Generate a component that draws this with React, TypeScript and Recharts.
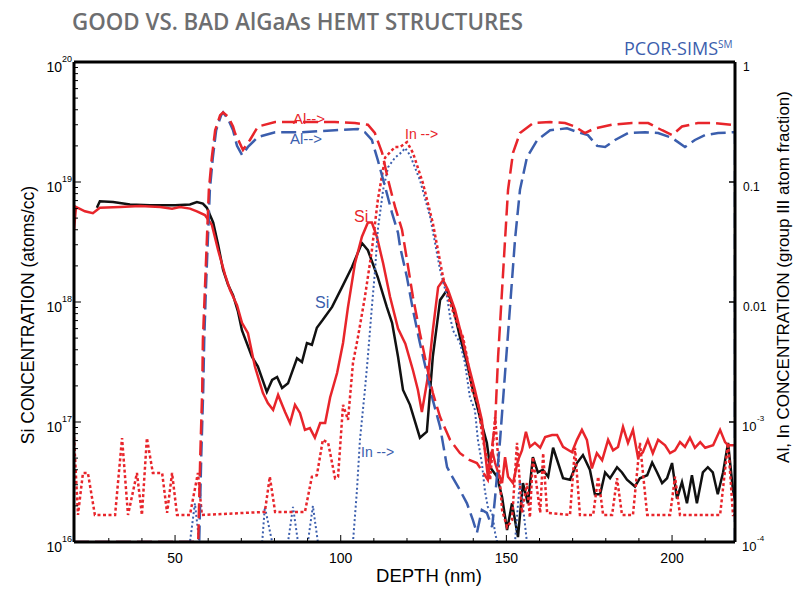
import React from 'react'
import { LineChart, Line, XAxis, YAxis, ReferenceLine } from 'recharts'

// depth (nm), Si concentration (atoms/cc)
const siBlack: [number, number][] = [
  [26.4, 6.1e18], [27.3, 6.9e18], [31.3, 6.8e18], [36.4, 6.5e18], [42.4, 6.4e18], [50.0, 6.4e18],
  [54.5, 6.5e18], [56.6, 6.8e18], [58.4, 6.6e18], [59.6, 6.1e18], [61.5, 4.6e18], [63.0, 3.0e18],
  [64.5, 1.85e18], [66.0, 1.39e18], [67.5, 1.14e18], [69.0, 8.3e17], [70.2, 5.8e17], [73.2, 3.5e17],
  [75.0, 2.9e17], [77.7, 1.78e17], [79.3, 2.24e17], [80.8, 2.37e17], [82.3, 1.92e17], [84.1, 2.1e17],
  [86.8, 3.4e17], [88.3, 3.16e17], [89.8, 4.55e17], [91.3, 4.4e17], [92.8, 6.1e17], [94.6, 7.1e17],
  [97.4, 9.1e17], [100.4, 1.33e18], [103.4, 1.96e18], [106.4, 3.1e18], [108.2, 2.7e18], [111.2, 1.6e18],
  [113.9, 9.1e17], [115.5, 6.7e17], [117.3, 3.5e17], [118.8, 1.85e17], [120.9, 1.39e17], [123.9, 7.4e16],
  [126.0, 8.3e16], [127.8, 3.5e17], [130.0, 1.04e18], [132.1, 1.26e18], [133.9, 9.1e17], [136.0, 5.1e17],
  [138.1, 3.1e17], [139.9, 1.85e17], [142.0, 1.1e17], [144.1, 6.7e16], [145.1, 4.2e16], [147.2, 3.5e16],
  [148.7, 2.37e16], [150.2, 1.26e16], [151.7, 2.1e16], [153.5, 1.1e16], [155.0, 3.1e16], [156.5, 2.1e16],
  [158.0, 5.1e16], [159.5, 3.8e16], [161.0, 4.0e16], [162.6, 3.5e16], [164.1, 6.1e16], [167.1, 3.4e16],
  [169.2, 3.3e16], [171.3, 4.55e16], [173.1, 5.3e16], [175.2, 4.0e16], [176.7, 2.5e16], [178.3, 2.5e16],
  [179.8, 3.8e16], [181.3, 3.4e16], [183.4, 4.2e16], [184.9, 3.8e16], [186.4, 3.3e16], [188.8, 2.9e16],
  [190.3, 3.4e16], [192.5, 3.6e16], [194.0, 4.6e16], [195.5, 3.8e16], [197.0, 3.1e16], [198.5, 3.4e16],
  [200.0, 4.55e16], [201.5, 2.3e16], [203.0, 3.16e16], [204.5, 2.1e16], [206.0, 3.6e16], [207.5, 2.1e16],
  [209.3, 3.8e16], [210.8, 4.2e16], [212.3, 3.8e16], [213.8, 2.5e16], [215.4, 3.8e16], [216.9, 6.7e16],
  [218.4, 2.7e16], [219.0, 2.24e16],
]

const siRed: [number, number][] = [
  [19.5, 4.0e18], [20.1, 6.2e18], [22.8, 5.7e18], [25.2, 5.5e18], [27.3, 6.1e18], [33.4, 6.2e18],
  [39.4, 6.3e18], [45.5, 6.2e18], [49.1, 6.0e18], [51.5, 6.2e18], [54.5, 6.0e18], [56.6, 5.7e18],
  [59.0, 5.3e18], [61.1, 4.4e18], [63.0, 2.7e18], [65.1, 1.68e18], [66.6, 1.26e18], [68.7, 9.4e17],
  [70.2, 6.7e17], [72.0, 5.5e17], [74.1, 2.9e17], [76.5, 1.75e17], [78.0, 1.44e17], [79.6, 1.26e17],
  [81.1, 1.68e17], [83.2, 1.21e17], [84.7, 9.8e16], [86.2, 1.39e17], [87.7, 1.19e17], [89.2, 8.6e16],
  [90.7, 8.9e16], [92.2, 7.4e16], [93.8, 9.8e16], [95.3, 9.8e16], [96.8, 1.6e17], [98.9, 2.56e17],
  [100.7, 4.55e17], [102.2, 9.1e17], [104.3, 2.1e18], [106.4, 3.5e18], [108.2, 4.6e18], [109.4, 4.6e18],
  [110.9, 3.5e18], [112.8, 2.1e18], [114.9, 1.1e18], [117.3, 6.0e17], [119.5, 4.5e17], [121.8, 2.7e17],
  [123.3, 1.85e17], [124.5, 1.21e17], [126.3, 2.37e17], [127.8, 5.8e17], [129.4, 1.33e18], [130.9, 1.52e18],
  [132.4, 1.26e18], [134.5, 8.6e17], [136.6, 5.1e17], [138.4, 3.1e17], [140.5, 1.85e17], [142.6, 1.04e17],
  [143.5, 5.8e16], [144.4, 3.5e16], [145.7, 5.8e16], [146.6, 4.55e16], [147.5, 3.8e16], [148.7, 3.1e16],
  [149.6, 5.1e16], [150.5, 3.5e16], [152.0, 3.1e16], [153.5, 4.8e16], [154.7, 5.8e16], [155.9, 8.3e16],
  [157.1, 6.2e16], [158.6, 6.7e16], [160.2, 6.1e16], [161.7, 7.5e16], [163.8, 7.8e16], [165.3, 7.8e16],
  [167.1, 6.2e16], [169.8, 5.6e16], [171.3, 7.1e16], [172.8, 8.6e16], [174.3, 7.1e16], [175.8, 4.1e16],
  [177.3, 5.5e16], [178.9, 4.8e16], [180.7, 7.1e16], [182.2, 5.8e16], [183.7, 6.2e16], [185.2, 9.1e16],
  [186.7, 6.7e16], [188.2, 8.6e16], [189.7, 5.1e16], [191.2, 5.6e16], [192.7, 7.1e16], [194.2, 5.5e16],
  [195.8, 7.1e16], [197.9, 6.4e16], [199.4, 5.5e16], [200.9, 5.8e16], [202.4, 6.8e16], [203.9, 6.2e16],
  [205.4, 7.4e16], [206.9, 6.1e16], [208.5, 6.8e16], [210.0, 6.1e16], [212.4, 6.4e16], [214.5, 8.6e16],
  [216.0, 6.8e16], [216.9, 6.4e16], [219.0, 6.4e16],
]

// depth (nm), group III atom fraction
const alRed: [number, number][] = [
  [19.5, 1e-4], [56.6, 1e-4], [57.0, 1.04e-4], [57.6, 5.1e-4], [58.2, 1.85e-3], [58.4, 4.8e-3],
  [59.0, 0.0126], [59.6, 0.033], [60.2, 0.086], [61.1, 0.16], [62.1, 0.27], [63.6, 0.36], [64.5, 0.38],
  [66.0, 0.35], [67.5, 0.29], [68.1, 0.256], [70.5, 0.185], [72.6, 0.224], [75.0, 0.29], [80.2, 0.316],
  [88.3, 0.316], [98.2, 0.316], [104.3, 0.31], [108.2, 0.3], [110.3, 0.256], [112.5, 0.175], [114.3, 0.104],
  [116.4, 0.062], [118.5, 0.04], [120.0, 0.0224], [121.8, 0.011], [123.9, 5.5e-3], [126.0, 2.9e-3],
  [127.8, 1.75e-3], [130.0, 1.1e-3], [133.0, 7.1e-4], [136.0, 5.5e-4], [139.0, 4.8e-4], [141.1, 4.55e-4],
  [143.0, 3.8e-4], [144.4, 3.3e-4], [146.6, 9.8e-4], [147.5, 3.5e-3], [148.7, 0.0126], [149.6, 0.033],
  [150.5, 0.086], [152.0, 0.175], [154.1, 0.256], [158.1, 0.31], [163.2, 0.316], [167.7, 0.31],
  [170.7, 0.29], [173.7, 0.256], [176.7, 0.28], [181.9, 0.3], [187.9, 0.31], [192.8, 0.31], [197.0, 0.27],
  [200.0, 0.246], [203.0, 0.29], [207.8, 0.31], [213.0, 0.31], [218.1, 0.3], [219.0, 0.3],
]

const alBlue: [number, number][] = [
  [19.5, 1e-4], [57.0, 1e-4], [57.3, 1.04e-4], [57.9, 5.1e-4], [58.5, 1.85e-3], [58.8, 4.8e-3],
  [59.3, 0.0126], [59.9, 0.033], [60.5, 0.086], [61.4, 0.16], [62.4, 0.27], [63.9, 0.36], [64.5, 0.38],
  [66.0, 0.335], [67.5, 0.27], [68.7, 0.2], [70.2, 0.168], [72.0, 0.196], [75.0, 0.237], [80.2, 0.26],
  [88.3, 0.26], [98.2, 0.27], [105.2, 0.277], [107.3, 0.26], [109.4, 0.224], [111.2, 0.152], [113.4, 0.091],
  [115.5, 0.055], [117.3, 0.0376], [117.9, 0.029], [120.0, 0.016], [121.8, 8.6e-3], [123.9, 4.55e-3],
  [126.0, 2.56e-3], [127.8, 1.52e-3], [130.0, 9.1e-4], [132.1, 4.2e-4], [133.9, 3.4e-4], [136.0, 2.7e-4],
  [138.1, 2.1e-4], [139.9, 1.52e-4], [141.1, 1.19e-4], [142.6, 1.85e-4], [144.1, 1.75e-4], [145.7, 1.33e-4],
  [146.6, 2.37e-4], [148.1, 7.1e-4], [149.6, 2.56e-3], [151.1, 9.1e-3], [152.6, 0.033], [154.1, 0.086],
  [156.2, 0.16], [159.3, 0.224], [163.2, 0.27], [168.3, 0.28], [171.6, 0.26], [174.6, 0.246], [177.4, 0.2],
  [179.8, 0.196], [182.8, 0.224], [186.7, 0.256], [191.9, 0.26], [195.8, 0.256], [200.0, 0.233],
  [203.9, 0.196], [206.9, 0.224], [210.0, 0.246], [213.9, 0.256], [219.0, 0.26], [219.0, 1e-4],
]

const inRed: [number, number][] = [
  [19.5, 7.5e-4], [20.7, 1.68e-4], [22.2, 3.76e-4], [23.7, 3.76e-4], [25.8, 1.68e-4], [31.9, 1.68e-4],
  [34.0, 7.35e-4], [35.8, 1.68e-4], [38.5, 3.76e-4], [40.0, 1.68e-4], [41.5, 7.35e-4], [43.3, 3.76e-4],
  [46.1, 3.76e-4], [47.6, 1.75e-4], [49.1, 3.76e-4], [50.6, 1.68e-4], [54.5, 1.68e-4], [56.9, 3.76e-4],
  [58.1, 1.68e-4], [77.1, 1.78e-4], [78.6, 3.5e-4], [80.2, 1.78e-4], [89.2, 1.78e-4], [91.3, 3.5e-4],
  [92.8, 3.6e-4], [94.6, 7.1e-4], [96.2, 6.7e-4], [98.3, 3.4e-4], [99.2, 3.5e-4], [100.7, 1.39e-3],
  [102.2, 1.04e-3], [103.7, 3.1e-3], [105.2, 5.1e-3], [107.3, 0.011], [109.4, 0.027], [111.2, 0.071],
  [113.4, 0.16], [116.4, 0.196], [117.9, 0.196], [120.0, 0.215], [121.8, 0.175], [124.8, 0.098],
  [127.8, 0.0455], [130.9, 0.016], [133.0, 9.8e-3], [135.1, 6.7e-3], [136.9, 5.1e-3], [138.1, 3.5e-3],
  [139.6, 1.85e-3], [141.4, 1.44e-3], [142.9, 7.1e-4], [144.1, 5.1e-4], [145.1, 3.3e-4], [146.6, 1.1e-3],
  [147.5, 5.1e-4], [148.7, 1.85e-4], [150.2, 1.33e-4], [151.7, 1.52e-4], [153.2, 6.7e-4], [154.7, 1.75e-4],
  [156.2, 3.1e-4], [157.1, 1.6e-4], [158.0, 5.1e-4], [160.2, 1.75e-4], [161.1, 5.5e-4], [162.3, 1.75e-4],
  [169.2, 1.68e-4], [170.7, 6.1e-4], [172.2, 1.68e-4], [176.2, 1.68e-4], [177.7, 3.5e-4], [179.2, 1.68e-4],
  [181.9, 1.68e-4], [183.4, 3.4e-4], [184.9, 1.68e-4], [188.2, 1.68e-4], [190.3, 6.7e-4], [192.5, 1.68e-4],
  [199.4, 1.68e-4], [200.9, 3.5e-4], [202.4, 1.68e-4], [214.5, 1.68e-4], [216.9, 6.7e-4], [218.4, 1.68e-4],
  [219.0, 1.68e-4],
]

const inBlue: [number, number][] = [
  [19.5, 1e-4], [54.5, 1e-4], [56.0, 2.1e-4], [57.3, 1e-4], [76.3, 1e-4], [77.1, 1.96e-4], [79.3, 1e-4],
  [84.1, 1e-4], [85.6, 1.96e-4], [87.1, 1e-4], [90.1, 1e-4], [91.6, 2.0e-4], [93.1, 1e-4], [103.7, 1e-4],
  [104.9, 2.7e-4], [105.8, 7.1e-4], [107.3, 1.85e-3], [108.2, 3.5e-3], [109.4, 9.1e-3], [110.3, 0.0175],
  [111.2, 0.04], [112.8, 0.086], [114.3, 0.133], [116.4, 0.16], [118.5, 0.178], [119.4, 0.192],
  [120.9, 0.168], [123.9, 0.104], [127.0, 0.051], [130.0, 0.0185], [132.1, 0.011], [133.0, 7.5e-3],
  [133.9, 5.8e-3], [136.0, 4.55e-3], [137.5, 3.1e-3], [139.0, 1.6e-3], [140.5, 1.26e-3], [141.4, 7.1e-4],
  [142.6, 4.55e-4], [143.5, 2.7e-4], [144.4, 1.96e-4], [145.7, 1.75e-4], [146.6, 1.19e-4], [147.2, 1e-4],
  [152.6, 1e-4], [154.1, 3.3e-4], [156.2, 1e-4], [219.0, 1e-4],
]

const depthTicks = [30, 40, 50, 60, 70, 80, 90, 100, 110, 120, 130, 140, 150, 160, 170, 180, 190, 200, 210]
const siDecades = [1e16, 1e17, 1e18, 1e19, 1e20]
const fracDecades = [1e-4, 1e-3, 0.01, 0.1, 1]
const fracLabels = ['', '', '0.01', '0.1', '1']

const siTicks = siDecades.flatMap((d, i) =>
  i < siDecades.length - 1 ? [d, 2, 3, 4, 5, 6, 7, 8, 9].map((m, j) => (j === 0 ? d : d * m)) : [d]
)

const FONT = '"Liberation Sans", Arial, Helvetica, sans-serif'
const RED = '#e8252b'
const BLUE = '#3b5ead'

const rows = (pts: [number, number][]) => pts.map(([depth, v]) => ({ depth, v }))

function isDecade(v: number) {
  const lg = Math.log10(v)
  return Math.abs(lg - Math.round(lg)) < 1e-6
}

function LeftTick(props: any) {
  const { x, y, payload } = props
  const major = isDecade(payload.value)
  const e = Math.round(Math.log10(payload.value))
  return (
    <g>
      <line x1={x} x2={x + (major ? 7 : 4)} y1={y} y2={y} stroke="#000" strokeWidth={1} />
      {major && (
        <g fontFamily={FONT} fill="#000">
          <text x={x - 12} y={y + 10} fontSize={14} textAnchor="end">10</text>
          <text x={x - 12} y={y} fontSize={9}>{e}</text>
        </g>
      )}
    </g>
  )
}

function RightTick(props: any) {
  const { x, y, payload, index } = props
  const e = Math.round(Math.log10(payload.value))
  const label = fracLabels[index]
  return (
    <g fontFamily={FONT} fill="#000">
      <line x1={x} x2={x - 6} y1={y} y2={y} stroke="#000" strokeWidth={1.5} />
      {label ? (
        <text x={x + 8} y={y + 9} fontSize={12}>{label}</text>
      ) : (
        <>
          <text x={x + 7} y={y + 9} fontSize={13}>10</text>
          <text x={x + 22} y={y - 1} fontSize={8}>{e}</text>
        </>
      )}
    </g>
  )
}

function BottomTick(props: any) {
  const { x, y, payload } = props
  const major = payload.value % 50 === 0
  return (
    <g>
      <line x1={x} x2={x} y1={y} y2={y - (major ? 7 : 4)} stroke="#000" strokeWidth={1} />
      {major && (
        <text x={x} y={y + 21} fontSize={14} textAnchor="middle" fontFamily={FONT} fill="#000">
          {payload.value}
        </text>
      )}
    </g>
  )
}

export default function App() {
  return (
    <div style={{ position: 'absolute', left: 0, top: 0, width: 799, height: 589, background: '#fff' }}>
      <LineChart width={799} height={589} margin={{ top: 62, right: 0, bottom: 0, left: 0 }}>
        <XAxis
          type="number"
          dataKey="depth"
          domain={[19.5, 219]}
          allowDataOverflow
          ticks={depthTicks}
          tick={<BottomTick />}
          tickLine={false}
          tickSize={0}
          tickMargin={0}
          height={47}
          axisLine={{ stroke: '#000', strokeWidth: 3 }}
        />
        <YAxis
          yAxisId="si"
          scale="log"
          domain={[1e16, 1e20]}
          allowDataOverflow
          ticks={siTicks}
          interval={0}
          tick={<LeftTick />}
          tickLine={false}
          tickSize={0}
          tickMargin={0}
          width={74}
          axisLine={{ stroke: '#000', strokeWidth: 3 }}
        />
        <YAxis
          yAxisId="frac"
          orientation="right"
          scale="log"
          domain={[1e-4, 1]}
          allowDataOverflow
          ticks={fracDecades}
          interval={0}
          tick={<RightTick />}
          tickLine={false}
          tickSize={0}
          tickMargin={0}
          width={64}
          axisLine={{ stroke: '#000', strokeWidth: 3 }}
        />
        <ReferenceLine yAxisId="si" y={1e20} stroke="#000" strokeWidth={3} />
        <Line data={rows(siBlack)} dataKey="v" yAxisId="si" type="linear" stroke="#111" strokeWidth={2.5} dot={false} isAnimationActive={false} />
        <Line data={rows(siRed)} dataKey="v" yAxisId="si" type="linear" stroke={RED} strokeWidth={2.5} dot={false} isAnimationActive={false} />
        <Line data={rows(inBlue)} dataKey="v" yAxisId="frac" type="linear" stroke={BLUE} strokeWidth={2} strokeDasharray="2 2.5" dot={false} isAnimationActive={false} />
        <Line data={rows(inRed)} dataKey="v" yAxisId="frac" type="linear" stroke={RED} strokeWidth={2.5} strokeDasharray="3 2.5" dot={false} isAnimationActive={false} />
        <Line data={rows(alBlue)} dataKey="v" yAxisId="frac" type="linear" stroke={BLUE} strokeWidth={2.5} strokeDasharray="15 6" dot={false} isAnimationActive={false} />
        <Line data={rows(alRed)} dataKey="v" yAxisId="frac" type="linear" stroke={RED} strokeWidth={2.5} strokeDasharray="15 6" dot={false} isAnimationActive={false} />
      </LineChart>
      <svg width={799} height={589} style={{ position: 'absolute', left: 0, top: 0, pointerEvents: 'none' }}>
        <text x={72} y={30} fontFamily='"Open Sans", "Noto Sans", sans-serif' fontWeight={600} fontSize={24} fill="#6d6e70" textLength={451} lengthAdjust="spacingAndGlyphs">
          GOOD VS. BAD AlGaAs HEMT STRUCTURES
        </text>
        <text x={624} y={55} fontFamily='"Open Sans", "Noto Sans", sans-serif' fontSize={18} fill={BLUE}>
          PCOR-SIMS<tspan fontSize={10} dy={-7}>SM</tspan>
        </text>
        <g fontFamily={FONT}>
          <text x={429} y={582} fontSize={18.5} textAnchor="middle" fill="#000">DEPTH (nm)</text>
          <text transform="translate(34 315) rotate(-90)" fontSize={17.5} textAnchor="middle" fill="#000">
            Si CONCENTRATION (atoms/cc)
          </text>
          <text transform="translate(789 277) rotate(-90)" fontSize={17} textAnchor="middle" fill="#000">
            Al, In CONCENTRATION (group III atom fraction)
          </text>
          <text x={293} y={124} fontSize={15} fill={RED}>Al--&gt;</text>
          <text x={290} y={144} fontSize={15} fill={BLUE}>Al--&gt;</text>
          <text x={405} y={139} fontSize={14} fill={RED}>In --&gt;</text>
          <text x={354} y={222} fontSize={16} fill={RED}>Si</text>
          <text x={315} y={308} fontSize={16} fill={BLUE}>Si</text>
          <text x={361} y={457} fontSize={14} fill={BLUE}>In --&gt;</text>
        </g>
      </svg>
    </div>
  )
}
